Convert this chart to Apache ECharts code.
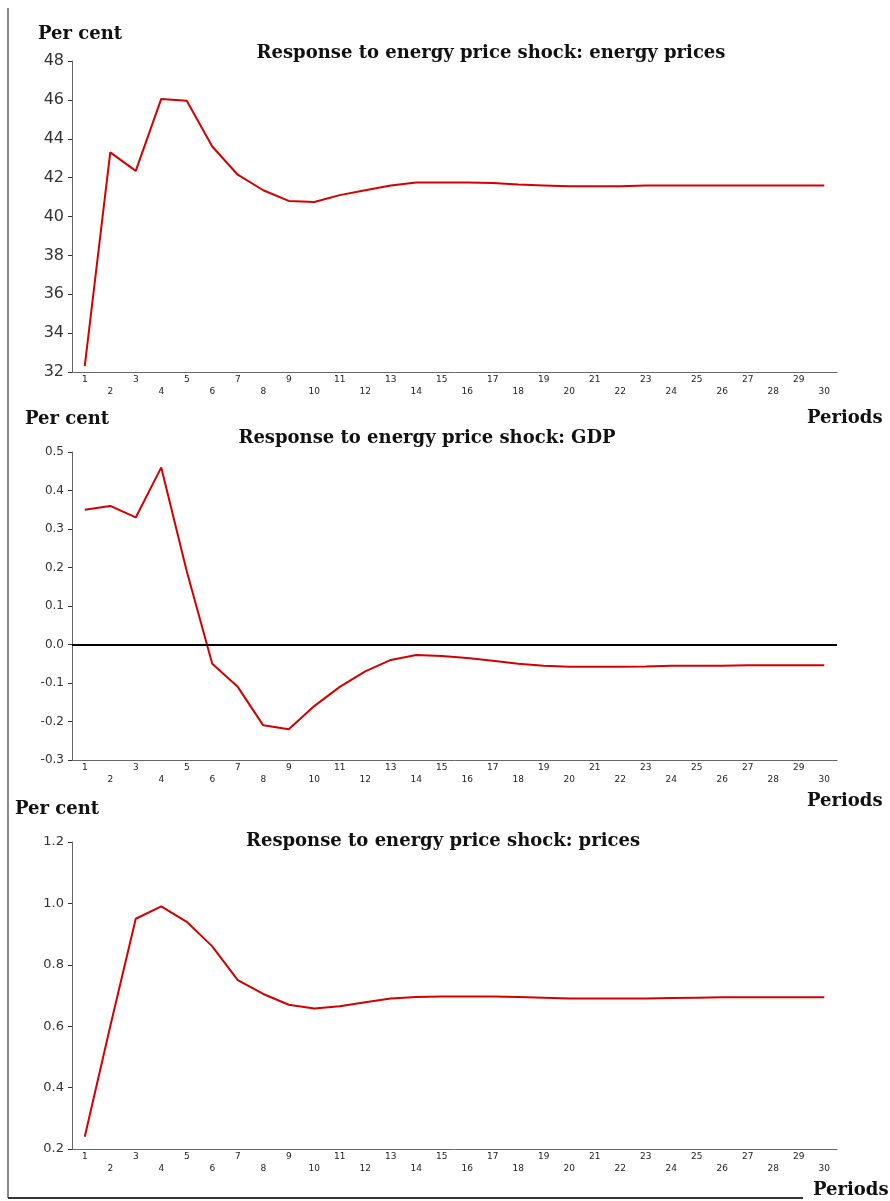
<!DOCTYPE html>
<html>
<head>
<meta charset="utf-8">
<script src="https://cdn.jsdelivr.net/npm/echarts@6/dist/echarts.min.js"></script>
<style>
html,body{margin:0;padding:0;background:#fff;}
#chart{width:890px;height:1201px;}
</style>
</head>
<body>
<div id="chart"></div>
<script>
// ---- Data ----
const periods = ['1','2','3','4','5','6','7','8','9','10','11','12','13','14','15','16','17','18','19','20','21','22','23','24','25','26','27','28','29','30'];

const energyPrices = [32.3, 43.3, 42.35, 46.05, 45.95, 43.6, 42.15, 41.35, 40.8, 40.75, 41.1, 41.35, 41.6, 41.75, 41.75, 41.75, 41.72, 41.65, 41.6, 41.55, 41.55, 41.55, 41.6, 41.6, 41.6, 41.6, 41.6, 41.6, 41.6, 41.6];

const gdp = [0.35, 0.36, 0.33, 0.46, 0.19, -0.05, -0.11, -0.21, -0.22, -0.16, -0.11, -0.07, -0.04, -0.027, -0.03, -0.035, -0.042, -0.05, -0.055, -0.058, -0.058, -0.058, -0.057, -0.055, -0.055, -0.055, -0.054, -0.054, -0.054, -0.054];

const prices = [0.24, 0.6, 0.95, 0.99, 0.94, 0.86, 0.75, 0.705, 0.67, 0.658, 0.665, 0.678, 0.69, 0.695, 0.697, 0.697, 0.697, 0.695, 0.693, 0.69, 0.69, 0.69, 0.69, 0.692, 0.693, 0.694, 0.694, 0.694, 0.694, 0.694];

const titles = [
  'Response to energy price shock: energy prices',
  'Response to energy price shock: GDP',
  'Response to energy price shock: prices'
];
const yUnit = 'Per cent';
const xUnit = 'Periods';

// ---- Chart ----
const chart = echarts.init(document.getElementById('chart'), null, {renderer: 'canvas'});

const serif = '"DejaVu Serif", "Liberation Serif", serif';
const sans = '"DejaVu Sans", "Liberation Sans", sans-serif';
const lineColor = '#d40000';
const axisColor = '#666';

const grids = [
  {left: 72, right: 53, top: 61, height: 311},
  {left: 72, right: 53, top: 452, height: 308},
  {left: 72, right: 53, top: 842, height: 307}
];

function xAxis(idx) {
  return {
    type: 'category',
    gridIndex: idx,
    data: periods,
    boundaryGap: true,
    axisLine: {onZero: false, lineStyle: {color: axisColor, width: 1}},
    axisTick: {alignWithLabel: true, length: 3, lineStyle: {color: '#333'}},
    axisLabel: {
      interval: 0,
      margin: 2,
      fontFamily: sans,
      fontSize: 9,
      lineHeight: 12,
      color: '#222',
      formatter: function (v, i) { return (i % 2 === 1) ? '\n' + v : v; }
    },
    splitLine: {show: false}
  };
}

function yAxis(idx, min, max, interval, fs, decimals) {
  return {
    type: 'value',
    gridIndex: idx,
    min: min, max: max, interval: interval,
    axisLine: {show: true, lineStyle: {color: axisColor, width: 1}},
    axisTick: {show: true, length: 4, lineStyle: {color: '#333'}},
    axisLabel: {
      margin: 8,
      fontFamily: sans,
      fontSize: fs,
      color: '#333',
      formatter: function (v) { return decimals ? v.toFixed(decimals) : String(Math.round(v)); }
    },
    splitLine: {show: false}
  };
}

function textEl(txt, x, y, align, size) {
  return {
    type: 'text',
    x: x, y: y,
    style: {
      text: txt,
      fill: '#111',
      font: 'bold ' + size + 'px ' + serif,
      textAlign: align,
      textVerticalAlign: 'middle'
    }
  };
}

const option = {
  animation: false,
  backgroundColor: '#fff',
  grid: grids,
  xAxis: [xAxis(0), xAxis(1), xAxis(2)],
  yAxis: [
    yAxis(0, 32, 48, 2, 16, 0),
    yAxis(1, -0.3, 0.5, 0.1, 12, 1),
    yAxis(2, 0.2, 1.2, 0.2, 13, 1)
  ],
  series: [
    {
      type: 'line', xAxisIndex: 0, yAxisIndex: 0, data: energyPrices,
      showSymbol: false, symbol: 'none',
      lineStyle: {color: lineColor, width: 2}
    },
    {
      type: 'line', xAxisIndex: 1, yAxisIndex: 1, data: gdp,
      showSymbol: false, symbol: 'none',
      lineStyle: {color: lineColor, width: 2},
      markLine: {
        silent: true, symbol: 'none', label: {show: false},
        lineStyle: {color: '#000', width: 2, type: 'solid'},
        data: [{yAxis: 0}]
      }
    },
    {
      type: 'line', xAxisIndex: 2, yAxisIndex: 2, data: prices,
      showSymbol: false, symbol: 'none',
      lineStyle: {color: lineColor, width: 2}
    }
  ],
  graphic: [
    // frame lines
    {type: 'line', shape: {x1: 8, y1: 8, x2: 8, y2: 1198}, style: {stroke: '#888', lineWidth: 2}},
    {type: 'line', shape: {x1: 8, y1: 1198, x2: 803, y2: 1198}, style: {stroke: '#333', lineWidth: 2}},
    // panel 1
    textEl(yUnit, 38, 34, 'left', 18),
    textEl(titles[0], 491, 53, 'center', 18),
    textEl(xUnit, 807, 418, 'left', 18),
    // panel 2
    textEl(yUnit, 25, 419, 'left', 18),
    textEl(titles[1], 427, 438, 'center', 18),
    textEl(xUnit, 807, 801, 'left', 18),
    // panel 3
    textEl(yUnit, 15, 809, 'left', 18),
    textEl(titles[2], 443, 841, 'center', 18),
    textEl(xUnit, 813, 1190, 'left', 18)
  ]
};

chart.setOption(option);
</script>
</body>
</html>
